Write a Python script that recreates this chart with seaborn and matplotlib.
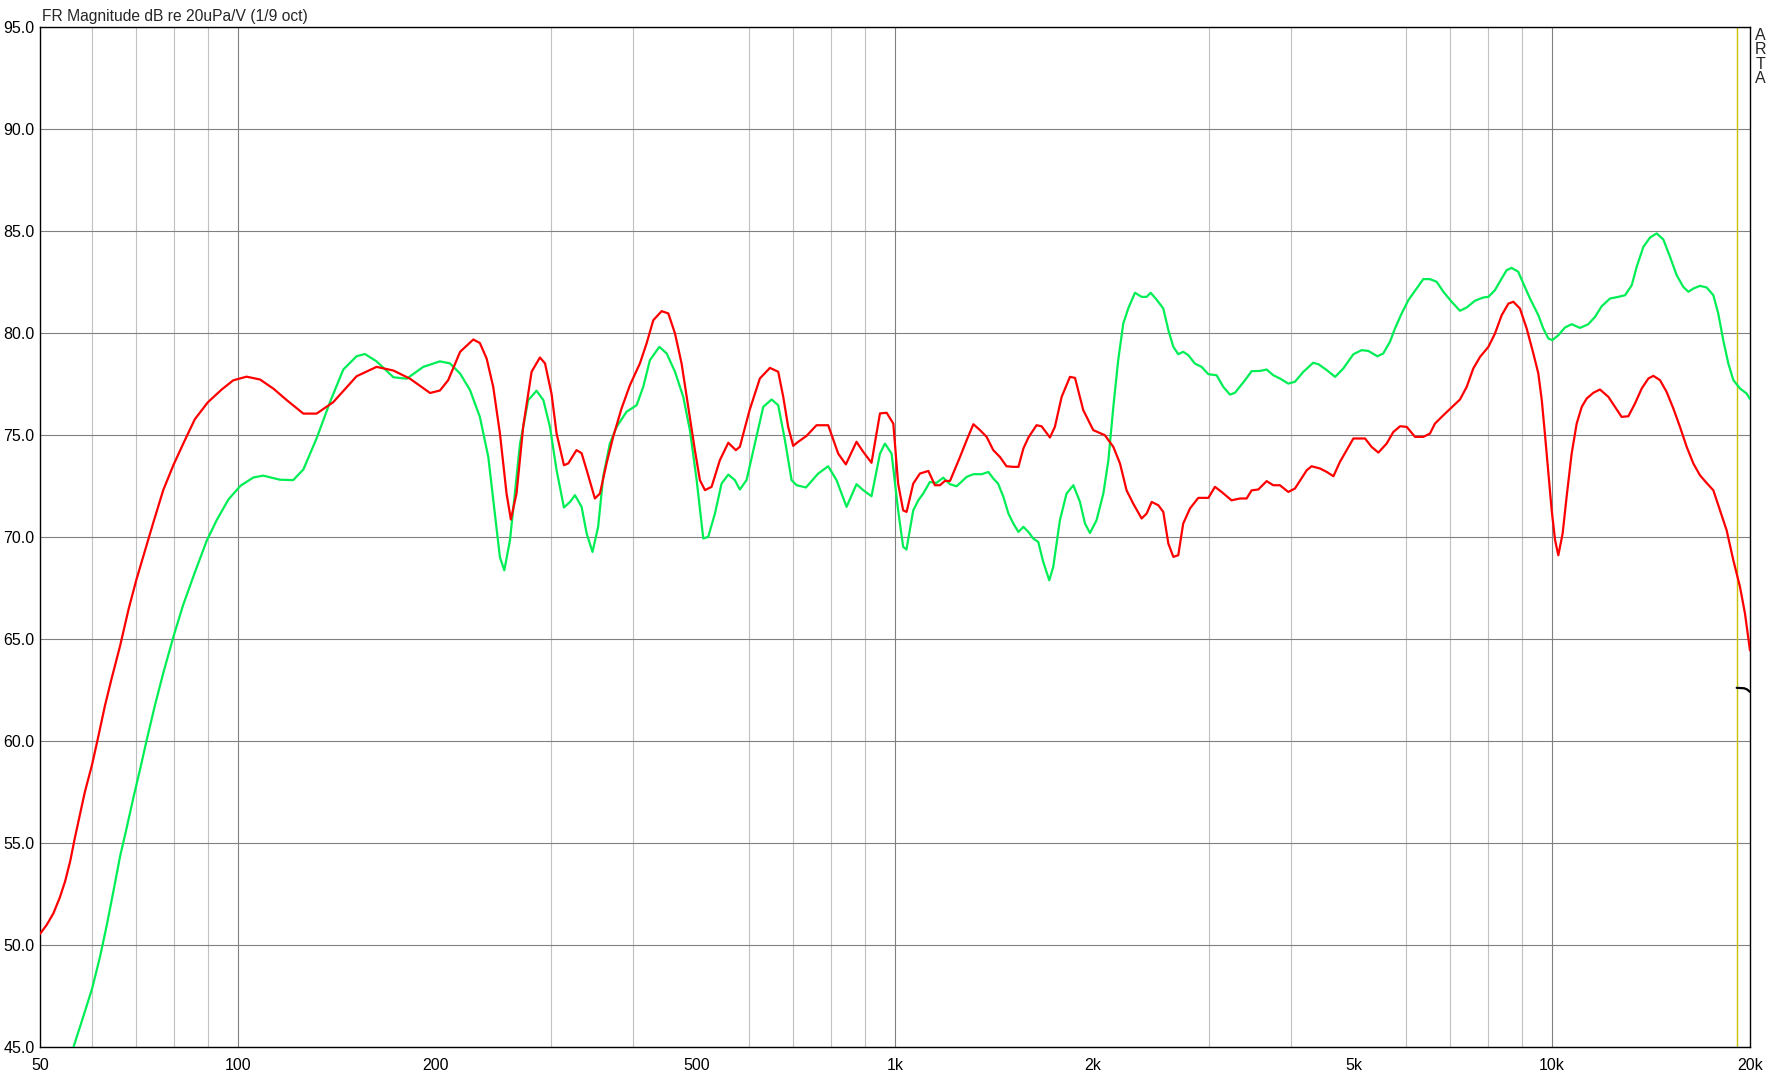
import matplotlib
matplotlib.use("Agg")
import matplotlib.pyplot as plt
from matplotlib.ticker import FixedLocator, NullFormatter
import seaborn as sns

# red trace (Hz, dB)
red_freq = [50, 51.2, 52.4, 53.6, 54.6, 55.6, 56.5, 57.5, 58.5, 60, 61.3, 62.8, 64.3, 66.2, 68.2,
            70.1, 72.3, 74.4, 77, 79.8, 82.6, 86, 90, 94.5, 98.4, 103.1, 108.1, 113.3,
            118.7, 125.8, 131.8, 139.7, 151.6, 162.6, 172.5, 182.8, 196.1, 203,
            209, 217.9, 228.2, 233.5, 239.1, 244.7, 250.5, 256.4, 260.3, 265.5, 271.8, 279.9, 288.2,
            293.4, 300.2, 305.5, 313.5, 318.3, 327.6, 333.5, 339.5, 349.4, 355.6, 364, 372.5, 383.6,
            395, 409.1, 418.8, 428.8, 441.5, 451.9, 462.6, 473.4, 484.6, 496, 504.8, 513.8, 525.9,
            541.4, 557.6, 572.5, 580.6, 600.8, 622.8, 645.2, 664.2, 676, 687.8, 700, 712.6, 733.6,
            759.6, 791.3, 819.5, 841.8, 873.8, 894.4, 921, 948.7, 971.2, 994.1,
            1011, 1029, 1041.4, 1066, 1091, 1124, 1150, 1170.5, 1191, 1212.6, 1256, 1285.6, 1316,
            1347, 1378.5, 1411, 1444, 1478, 1514, 1541, 1568, 1596, 1642, 1671, 1721, 1751, 1793,
            1846, 1879, 1934, 2003, 2086, 2149, 2200, 2251, 2304, 2373, 2415, 2458, 2516, 2560,
            2606, 2652, 2698, 2745, 2811, 2894, 2998, 3068, 3141, 3252, 3349, 3428, 3489, 3571,
            3677, 3764, 3852, 3967, 4061, 4231, 4305, 4433,
            4540, 4647, 4753, 4867, 4983, 5191, 5311, 5439, 5599, 5732, 5869, 6007, 6184, 6366,
            6516, 6632, 6831, 7031, 7239, 7412, 7585, 7767, 7997, 8183, 8378, 8578, 8729, 8932,
            9145, 9363, 9527, 9642, 9748, 9868, 9983, 10103, 10218, 10373, 10519, 10706, 10897,
            11091, 11287, 11552, 11823, 12177, 12461, 12754, 13060, 13365, 13685, 14008, 14256,
            14589, 14935, 15289, 15649, 16021, 16402, 16783, 17182, 17590, 18003, 18428, 18867,
            19310, 19652, 19997]
red_db = [50.54, 50.99, 51.55, 52.33, 53.12, 54.13, 55.25, 56.37, 57.49, 58.83, 60.18, 61.75, 63.09,
          64.66, 66.46, 67.91, 69.37, 70.72, 72.29, 73.52, 74.57, 75.76, 76.59, 77.22, 77.67, 77.85,
          77.71, 77.26,
          76.7, 76.04, 76.04, 76.6, 77.87, 78.33, 78.15, 77.75, 77.05, 77.17,
          77.68, 79.07, 79.67, 79.5, 78.74, 77.35, 75.07, 72.12, 70.85, 72.12, 75.4, 78.09, 78.79,
          78.5, 77.0, 75.07, 73.51, 73.6, 74.25, 74.1, 73.27, 71.88, 72.12, 73.6, 74.9, 76.29,
          77.43, 78.5, 79.48, 80.62, 81.06, 80.95, 79.97, 78.5, 76.37, 74.25, 72.78, 72.29, 72.45,
          73.76, 74.61, 74.25, 74.41, 76.21, 77.76, 78.28, 78.09, 76.86, 75.39, 74.46, 74.66, 74.95,
          75.47, 75.47, 74.08, 73.55, 74.66, 74.17, 73.63, 76.05, 76.08, 75.55,
          72.61, 71.3, 71.22, 72.61, 73.1, 73.23, 72.53, 72.53, 72.74, 72.74, 73.92, 74.74, 75.52,
          75.23, 74.9, 74.25, 73.92, 73.46, 73.43, 73.43, 74.33, 74.87, 75.47, 75.42, 74.87, 75.39,
          76.86, 77.84, 77.79, 76.21, 75.23, 74.98, 74.41, 73.59, 72.28, 71.63, 70.9, 71.14, 71.71,
          71.55, 71.22, 69.67, 69.02, 69.1, 70.65, 71.39, 71.91, 71.91, 72.45, 72.2, 71.79, 71.88,
          71.88, 72.28, 72.32, 72.73, 72.53, 72.53, 72.2, 72.37, 73.26, 73.46, 73.35,
          73.18, 72.97, 73.67, 74.25, 74.82, 74.82, 74.41, 74.13, 74.57, 75.14, 75.42, 75.39, 74.9,
          74.9, 75.06, 75.55, 75.96, 76.34, 76.73, 77.35, 78.25, 78.82, 79.31, 79.96, 80.86, 81.43,
          81.52, 81.19, 80.21, 78.98, 78.0, 76.7, 75.06, 73.1, 71.3, 69.83, 69.1, 70.16, 71.96,
          74.08, 75.55, 76.37, 76.78, 77.06, 77.22, 76.86, 76.37, 75.88, 75.91, 76.53, 77.27, 77.76,
          77.89, 77.68, 77.1, 76.29, 75.39, 74.41, 73.59, 73.02, 72.64, 72.28, 71.3, 70.32, 68.85,
          67.55, 66.24, 64.44]

# green trace (Hz, dB)
green_freq = [56.2, 58.2, 60, 61.7, 63.2, 64.7, 66.2, 67.7, 69.4, 71.0, 72.7, 74.8, 77, 79.8, 82.6,
              86, 89.7, 92.9, 96.8, 101, 105.6, 109.3,
              115.9, 121.4, 125.8, 131.8, 138.1, 144.7, 151.6, 156.1, 162.6, 172.5, 180.7, 191.5, 203,
              210.3, 217.9, 225.6, 233.5, 240.5, 246.1, 250.5, 254.4, 259.5, 268.8, 276.6, 284.8,
              291.7, 298.5, 305.5, 313.5, 320.2, 325.9, 333.5, 339.5, 346.5, 353.4, 359.7, 368.2,
              377, 390.4, 404.4, 413.9, 423.7, 437.9, 449.3, 462.6, 476.2, 487.4, 499.1, 510.8,
              519.7, 532.1, 544.6, 557.6, 570.6, 580.6, 594.4, 612, 630.3, 649, 664.2, 680, 696,
              708.3, 732, 764, 791.3, 814.8, 843.9, 873.8, 894.4, 921, 948.7, 965.4, 988.1,
              1011, 1029, 1041, 1066, 1085, 1104, 1130, 1156, 1184, 1212.6, 1241, 1285.6, 1316,
              1355, 1387, 1411, 1435, 1462, 1488, 1514, 1541, 1568, 1596, 1623, 1652, 1681, 1717,
              1741, 1782, 1824, 1868, 1912, 1946, 1980, 2026, 2075, 2112, 2149, 2186, 2225, 2264,
              2318, 2373, 2415, 2449, 2500, 2560, 2606, 2652, 2698, 2745, 2795, 2860, 2928, 2998,
              3086, 3159, 3234, 3291, 3409, 3489, 3592, 3677, 3764, 3852, 3967, 4061, 4180, 4328,
              4409, 4540, 4674, 4810, 4983, 5130, 5252, 5420, 5531, 5665, 5765, 5900, 6042, 6219,
              6366, 6516, 6672, 6831, 7031, 7239, 7412, 7629, 7855, 7997, 8183, 8378, 8526, 8676,
              8880, 9040, 9253, 9527, 9693, 9868, 10005, 10218, 10459, 10706, 11025, 11349, 11620,
              11894, 12247, 12606, 12909, 13216, 13445, 13765, 14090, 14423, 14764, 15113, 15469,
              15831, 16118, 16402, 16783, 17182, 17590, 17896, 18210, 18539, 18867, 19310, 19768,
              19997]
green_db = [44.98, 46.5, 47.85, 49.42, 50.99, 52.67, 54.35, 55.7, 57.26, 58.61, 60.07, 61.75, 63.32,
            65.11, 66.68, 68.25, 69.82, 70.83, 71.84, 72.51, 72.91, 73.0,
            72.8, 72.78, 73.3, 74.83, 76.6, 78.2, 78.85, 78.96, 78.6, 77.82, 77.75, 78.33, 78.6,
            78.5, 78.0, 77.19, 75.88, 73.92, 71.14, 69.0, 68.36, 69.84, 74.57, 76.7, 77.16,
            76.7, 75.39, 73.27, 71.44, 71.71, 72.04, 71.47, 70.16, 69.26, 70.49, 72.94, 74.57,
            75.39, 76.13, 76.45, 77.35, 78.66, 79.31, 78.99, 78.09, 76.86, 75.23, 72.78, 69.92,
            70.0, 71.14, 72.61, 73.05, 72.78, 72.32, 72.78, 74.57, 76.37, 76.73, 76.45, 74.74, 72.78,
            72.53, 72.42, 73.1, 73.46, 72.78, 71.47, 72.58, 72.29, 71.99, 74.08, 74.57, 74.08,
            71.3, 69.51, 69.38, 71.3, 71.79, 72.12, 72.69, 72.64, 72.9, 72.58, 72.48, 72.94, 73.07,
            73.07, 73.18, 72.86, 72.61, 71.96, 71.14, 70.65, 70.24, 70.49, 70.24, 69.92, 69.75, 68.77, 67.87,
            68.53, 70.81, 72.12, 72.53, 71.71, 70.65, 70.19, 70.81, 72.12, 73.75, 76.37, 78.66, 80.45, 81.19,
            81.96, 81.76, 81.76, 81.96, 81.63, 81.19, 80.13, 79.31, 78.95, 79.07, 78.9, 78.49, 78.33, 77.97,
            77.92, 77.35, 76.97, 77.06, 77.68, 78.12, 78.13, 78.2, 77.92, 77.76, 77.51, 77.6, 78.08, 78.53,
            78.46, 78.17, 77.84, 78.25, 78.95, 79.15, 79.11, 78.85, 78.98, 79.56, 80.21, 80.94, 81.6, 82.17,
            82.63, 82.63, 82.5, 82.01, 81.52, 81.08, 81.24, 81.57, 81.73, 81.76, 82.09, 82.66, 83.07, 83.18,
            82.99, 82.41, 81.68, 80.86, 80.21, 79.72, 79.64, 79.88, 80.26, 80.42, 80.24, 80.42, 80.78,
            81.3, 81.68, 81.76, 81.84, 82.33, 83.23, 84.21, 84.67, 84.87, 84.57, 83.72, 82.82,
            82.25, 82.01, 82.17, 82.3, 82.22, 81.84, 80.94, 79.64, 78.49, 77.68, 77.27, 77.02,
            76.75]

# short black trace near the top end
black_freq = [19090, 19600, 19800, 20000]
black_db = [62.6, 62.58, 62.52, 62.4]

cursor_freq = 19085

x_ticks = [50, 100, 200, 500, 1000, 2000, 5000, 10000, 20000]
x_labels = ["50", "100", "200", "500", "1k", "2k", "5k", "10k", "20k"]
x_grid = [60, 70, 80, 90, 200, 300, 400, 500, 600, 700, 800, 900,
          2000, 3000, 4000, 5000, 6000, 7000, 8000, 9000]
x_decades = [100, 1000, 10000]
y_ticks = [45, 50, 55, 60, 65, 70, 75, 80, 85, 90, 95]

sns.set_style("white")
plt.rcParams["font.family"] = ["Liberation Sans", "DejaVu Sans"]

fig = plt.figure(figsize=(17.72, 10.77), dpi=100)
ax = fig.add_axes([40 / 1772, 30 / 1077, 1710 / 1772, 1020.3 / 1077])
ax.set_xscale("log")

ax.xaxis.set_minor_locator(FixedLocator(x_grid))
ax.xaxis.set_minor_formatter(NullFormatter())
ax.grid(which="minor", axis="x", color="#c0c0c0", linewidth=0.8)
for f in x_decades:
    ax.axvline(f, color="#808080", linewidth=0.8, zorder=1)
ax.grid(which="major", axis="y", color="#808080", linewidth=0.8)
ax.grid(which="major", axis="x", visible=False)
ax.axvline(cursor_freq, color="#c8c000", linewidth=1.0, zorder=2)

sns.lineplot(x=green_freq, y=green_db, ax=ax, color="#00ee55", linewidth=1.6,
             sort=False, estimator=None, zorder=3)
sns.lineplot(x=red_freq, y=red_db, ax=ax, color="#ff0000", linewidth=1.6,
             sort=False, estimator=None, zorder=4)
sns.lineplot(x=black_freq, y=black_db, ax=ax, color="black", linewidth=1.6,
             sort=False, estimator=None, zorder=4)

ax.set_xlim(50, 20000)
ax.set_ylim(45, 95)
ax.set_xticks(x_ticks)
ax.set_xticklabels(x_labels)
ax.set_yticks(y_ticks)
ax.set_yticklabels([f"{v:.1f}" for v in y_ticks])
ax.tick_params(axis="both", which="both", length=0, labelsize=11.5, colors="black")
ax.tick_params(axis="x", pad=8)
ax.tick_params(axis="y", pad=4)
ax.set_xlabel("")
ax.set_ylabel("")
for s in ax.spines.values():
    s.set_visible(True)
    s.set_color("black")
    s.set_linewidth(1.0)

fig.text(42 / 1772, 1 - 21 / 1077, "FR Magnitude dB re 20uPa/V (1/9 oct)",
         fontsize=11.25, va="baseline", ha="left")
fig.text(1760 / 1772, 1 - 28 / 1077, "A\nR\nT\nA", fontsize=11.5, ha="center",
         va="top", linespacing=0.95)

fig.savefig("out.png", dpi=100, facecolor="white")
